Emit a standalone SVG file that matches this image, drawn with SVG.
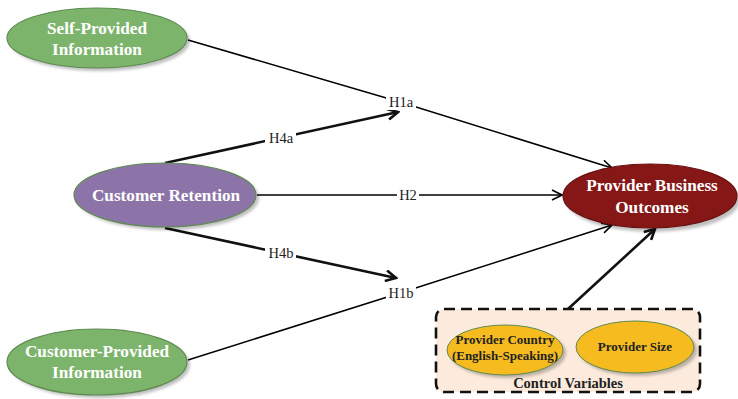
<svg xmlns="http://www.w3.org/2000/svg" width="738" height="399" viewBox="0 0 738 399">
<style>
.big{font-family:"Liberation Serif","Times New Roman",serif;font-weight:bold;font-size:17.2px;fill:#fff;text-anchor:middle}
.small{font-family:"Liberation Serif","Times New Roman",serif;font-weight:bold;font-size:13px;fill:#222;text-anchor:middle}
.cv{font-size:14.5px}
.lbl{font-family:"Liberation Serif","Times New Roman",serif;font-size:14.5px;fill:#222;text-anchor:middle}
.thin{stroke:#000;stroke-width:1.5;fill:none}
.thick{stroke:#111;stroke-width:2.6;fill:none}
.shadow{fill:#000;opacity:0.25}
.lb{fill:#fff}
</style>
<defs>
<marker id="ah" viewBox="0 0 12 12" refX="11" refY="6" markerWidth="12" markerHeight="12" markerUnits="userSpaceOnUse" orient="auto">
<path d="M1,1 L11,6 L1,11" fill="none" stroke="#000" stroke-width="1.6"/>
</marker>
<marker id="ahb" viewBox="0 0 12 12" refX="10.5" refY="6" markerWidth="13" markerHeight="13" markerUnits="userSpaceOnUse" orient="auto">
<path d="M1,1 L10.5,6 L1,11" fill="none" stroke="#111" stroke-width="2.4"/>
</marker>
<filter id="blur" x="-10%" y="-10%" width="120%" height="130%"><feGaussianBlur stdDeviation="1.5"/></filter>
</defs>

<g id="connectors">
<path class="thin" d="M188,40 L400,102 L612,168" marker-end="url(#ah)"/>
<path class="thin" d="M188,360 L400,293 L612,225" marker-end="url(#ah)"/>
<path class="thin" d="M257,195 L562,195" marker-end="url(#ah)"/>
<path class="thick" d="M165,163 L398,112" marker-end="url(#ahb)"/>
<path class="thick" d="M165,228 L396,278" marker-end="url(#ahb)"/>
<path class="thick" d="M568,309 L655,229" marker-end="url(#ahb)"/>
<rect class="lb" x="386" y="95" width="30" height="15"/>
<text class="lbl" x="401" y="107">H1a</text>
<rect class="lb" x="265" y="131" width="31" height="15"/>
<text class="lbl" x="281" y="143">H4a</text>
<rect class="lb" x="397" y="188" width="22" height="15"/>
<text class="lbl" x="408" y="200">H2</text>
<rect class="lb" x="265" y="246" width="31" height="15"/>
<text class="lbl" x="281" y="258">H4b</text>
<rect class="lb" x="386" y="286" width="30" height="15"/>
<text class="lbl" x="401" y="298">H1b</text>
</g>

<g id="self-provided">
<ellipse class="shadow" cx="100" cy="41" rx="90" ry="30" filter="url(#blur)"/>
<ellipse cx="97" cy="38" rx="90" ry="30" fill="#7db46c" stroke="#5e8a50" stroke-width="1.2"/>
<text class="big" x="97" y="34">Self-Provided</text>
<text class="big" x="97" y="55">Information</text>
</g>

<g id="customer-retention">
<ellipse class="shadow" cx="168" cy="198" rx="91" ry="32" filter="url(#blur)"/>
<ellipse cx="165" cy="195" rx="91" ry="32" fill="#8d74a8" stroke="#5e8a50" stroke-width="1.2"/>
<text class="big" x="166" y="201">Customer Retention</text>
</g>

<g id="customer-provided">
<ellipse class="shadow" cx="100" cy="365" rx="90" ry="33" filter="url(#blur)"/>
<ellipse cx="97" cy="362" rx="90" ry="33" fill="#7db46c" stroke="#5e8a50" stroke-width="1.2"/>
<text class="big" x="97" y="357">Customer-Provided</text>
<text class="big" x="97" y="378">Information</text>
</g>

<g id="provider-business-outcomes">
<ellipse class="shadow" cx="653" cy="200" rx="87" ry="32" filter="url(#blur)"/>
<ellipse cx="650" cy="196" rx="87" ry="32" fill="#861717" stroke="#6b1010" stroke-width="1.2"/>
<text class="big" x="652" y="191">Provider Business</text>
<text class="big" x="652" y="213">Outcomes</text>
</g>

<g id="control-variables">
<rect x="436" y="309" width="264" height="83" rx="8" fill="#fcebdd" stroke="#111" stroke-width="2.6" stroke-dasharray="11,6"/>
<text class="small cv" x="568" y="388">Control Variables</text>
</g>

<g id="provider-country">
<ellipse class="shadow" cx="508" cy="353" rx="58" ry="25" filter="url(#blur)"/>
<ellipse cx="505" cy="350" rx="58" ry="25" fill="#f6bb1f" stroke="#5e8a50" stroke-width="1"/>
<text class="small" x="505" y="344">Provider Country</text>
<text class="small" x="505" y="360">(English-Speaking)</text>
</g>

<g id="provider-size">
<ellipse class="shadow" cx="638" cy="350" rx="59" ry="26" filter="url(#blur)"/>
<ellipse cx="635" cy="347" rx="59" ry="26" fill="#f6bb1f" stroke="#5e8a50" stroke-width="1"/>
<text class="small" x="635" y="351">Provider Size</text>
</g>
</svg>
